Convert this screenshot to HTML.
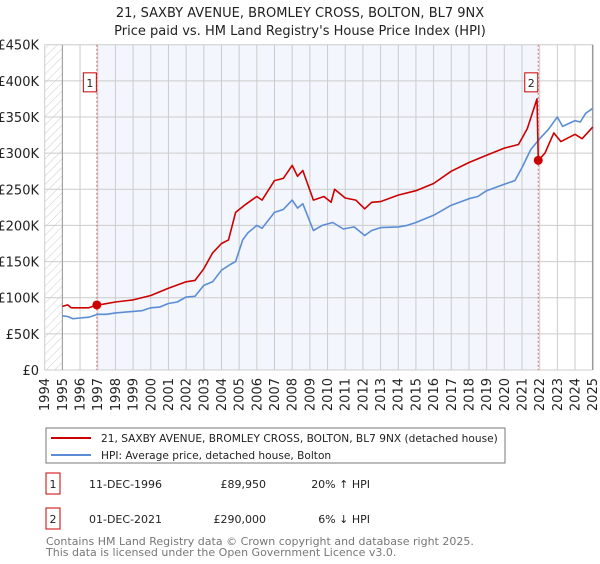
<!DOCTYPE html>
<html><head><meta charset="utf-8">
<style>
body{margin:0;background:#fff;width:600px;height:560px;overflow:hidden;font-family:"DejaVu Sans","Liberation Sans",sans-serif;}
svg text{font-family:"DejaVu Sans","Liberation Sans",sans-serif;}
</style></head>
<body>
<svg id="chart" width="600" height="560" xmlns="http://www.w3.org/2000/svg">
<defs>
<pattern id="hatch" width="6" height="6" patternUnits="userSpaceOnUse" patternTransform="rotate(45)">
<line x1="0" y1="0" x2="0" y2="6" stroke="#ccc" stroke-width="1"/></pattern>
</defs>
<text x="300" y="17" text-anchor="middle" font-size="13" fill="#222">21, SAXBY AVENUE, BROMLEY CROSS, BOLTON, BL7 9NX</text>
<text x="300" y="35" text-anchor="middle" font-size="13" fill="#222">Price paid vs. HM Land Registry's House Price Index (HPI)</text>
<g id="plot"></g>
<g>
<rect x="46" y="428" width="459" height="35" fill="#fff" stroke="#777"/>
<line x1="51" y1="438" x2="91" y2="438" stroke="#cc0000" stroke-width="2"/>
<text x="101" y="442" font-size="10.6" fill="#222">21, SAXBY AVENUE, BROMLEY CROSS, BOLTON, BL7 9NX (detached house)</text>
<line x1="51" y1="455" x2="91" y2="455" stroke="#5b8dd6" stroke-width="2"/>
<text x="101" y="459" font-size="10.6" fill="#222">HPI: Average price, detached house, Bolton</text>
</g>
<g font-size="11" fill="#222">
<rect x="46" y="473" width="14" height="21" fill="#fff" stroke="#cc0000"/>
<text x="53" y="488" text-anchor="middle">1</text>
<text x="89" y="488">11-DEC-1996</text>
<text x="266" y="488" text-anchor="end">£89,950</text>
<text x="370" y="488" text-anchor="end">20% ↑ HPI</text>
<rect x="46" y="508" width="14" height="21" fill="#fff" stroke="#cc0000"/>
<text x="53" y="523" text-anchor="middle">2</text>
<text x="89" y="523">01-DEC-2021</text>
<text x="266" y="523" text-anchor="end">£290,000</text>
<text x="370" y="523" text-anchor="end">6% ↓ HPI</text>
</g>
<text x="46" y="545" font-size="11" fill="#777">Contains HM Land Registry data © Crown copyright and database right 2025.</text>
<text x="46" y="556" font-size="11" fill="#777">This data is licensed under the Open Government Licence v3.0.</text>
</svg>
<script>
const yTicks=[0,50000,100000,150000,200000,250000,300000,350000,400000,450000];
const yTickLabels=["£0","£50K","£100K","£150K","£200K","£250K","£300K","£350K","£400K","£450K"];
const years=[1994,1995,1996,1997,1998,1999,2000,2001,2002,2003,2004,2005,2006,2007,2008,2009,2010,2011,2012,2013,2014,2015,2016,2017,2018,2019,2020,2021,2022,2023,2024,2025];
const hpiT=[1995,1995.3,1995.6,1996,1996.5,1997,1997.5,1998,1998.5,1999,1999.5,2000,2000.5,2001,2001.5,2002,2002.5,2003,2003.5,2004,2004.5,2004.8,2005.2,2005.5,2006,2006.3,2007,2007.5,2008,2008.3,2008.6,2009.2,2009.7,2010.3,2010.9,2011.5,2012.1,2012.5,2013,2014,2014.5,2015,2016,2017,2018,2018.5,2019,2020,2020.6,2021,2021.5,2022,2022.5,2023,2023.3,2024,2024.3,2024.6,2025];
const hpiV=[75000,74000,71000,72000,73000,77000,77000,79000,80000,81000,82000,86000,87000,92000,94000,101000,102000,117000,122000,138000,146000,150000,180000,190000,200000,196000,218000,222000,235000,224000,230000,193000,200000,204000,195000,198000,186000,193000,197000,198000,200000,204000,214000,228000,237000,240000,248000,257000,262000,280000,305000,320000,333000,350000,337000,345000,343000,355000,362000];
const priceT=[1995,1995.3,1995.5,1996.5,1996.95,1997.3,1998,1999,2000,2001,2002,2002.5,2003,2003.5,2004,2004.4,2004.8,2005.3,2006,2006.3,2007,2007.5,2008,2008.3,2008.6,2009.2,2009.8,2010.2,2010.4,2011,2011.6,2012.1,2012.5,2013,2014,2015,2016,2017,2018,2019,2020,2020.8,2021.3,2021.85,2021.92,2022.3,2022.8,2023.2,2024,2024.4,2024.7,2025];
const priceV=[88000,90000,86000,86000,89950,91000,94000,97000,103000,113000,122000,124000,140000,162000,175000,180000,218000,228000,240000,235000,262000,265000,283000,268000,276000,235000,240000,232000,250000,238000,235000,223000,232000,233000,242000,248000,258000,275000,287000,297000,307000,312000,334000,375000,290000,300000,328000,316000,326000,320000,328000,336000];
const saleT=[1996.95,2021.92];
const saleV=[89950,290000];
const saleLabels=["1","2"];

const NS="http://www.w3.org/2000/svg";
const X0=44.7,X1=592.7,Y0=370,Y1=44.7;
function xs(t){return X0+(t-1994)/(2025-1994)*(X1-X0);}
function ys(v){return Y0-v/450000*(Y0-Y1);}
const plot=document.getElementById('plot');
function mk(tag,attrs){const e=document.createElementNS(NS,tag);for(const k in attrs)e.setAttribute(k,attrs[k]);plot.appendChild(e);return e;}

let e=mk('rect',{x:xs(1994),y:Y1,width:xs(1995)-xs(1994),height:Y0-Y1,fill:'url(#hatch)'});


e=mk('rect',{x:xs(saleT[0]),y:Y1,width:xs(saleT[1])-xs(saleT[0]),height:Y0-Y1,fill:'#f3f6fd'});


years.forEach(yr=>{
 const g=mk('line',{x1:xs(yr),x2:xs(yr),y1:Y1,y2:Y0,stroke:'#ccc','stroke-width':1});
 
 
 const t=mk('text',{x:0,y:0,'font-size':13,fill:'#222','text-anchor':'end',transform:`translate(${xs(yr)+4.5},378) rotate(-90)`});
 t.textContent=yr;
 
 
});
yTicks.forEach((v,i)=>{
 const g=mk('line',{x1:X0,x2:X1,y1:ys(v),y2:ys(v),stroke:'#ccc','stroke-width':1});
 
 
 const t=mk('text',{x:39,y:ys(v)+5,'font-size':13,fill:'#222','text-anchor':'end'});
 t.textContent=yTickLabels[i];
 
 
});
e=mk('line',{x1:xs(1995),x2:xs(1995),y1:Y1,y2:Y0,stroke:'#999','stroke-width':1});


e=mk('line',{x1:X1,x2:X1,y1:Y1,y2:Y0,stroke:'#999','stroke-width':1.5});


saleT.forEach((t,i)=>{
 const l=mk('line',{x1:xs(t),x2:xs(t),y1:Y1,y2:Y0,stroke:'#e06666','stroke-width':1,'stroke-dasharray':'2,2'});
 
 
});
function path(T,V,color,name){
 const d=T.map((t,i)=>(i?'L':'M')+xs(t).toFixed(1)+','+ys(V[i]).toFixed(1)).join('');
 const p=mk('path',{d:d,fill:'none',stroke:color,'stroke-width':1.6,'stroke-linejoin':'round'});
 
 
}
path(hpiT,hpiV,'#5b8dd6','hpi-line');
path(priceT,priceV,'#cc0000','property-price-line');
saleT.forEach((t,i)=>{
 const c=mk('circle',{cx:xs(t),cy:ys(saleV[i]),r:4.5,fill:'#cc0000'});
 
 
 const bx=xs(t)-13.5, by=ys(400000)-8;
 const r=mk('rect',{x:bx,y:by,width:13,height:19,fill:'#fff',stroke:'#cc0000'});
 
 
 const tx=mk('text',{x:bx+6.5,y:by+14,'font-size':11,fill:'#222','text-anchor':'middle'});
 tx.textContent=saleLabels[i];
 
 
});
</script>
</body></html>
